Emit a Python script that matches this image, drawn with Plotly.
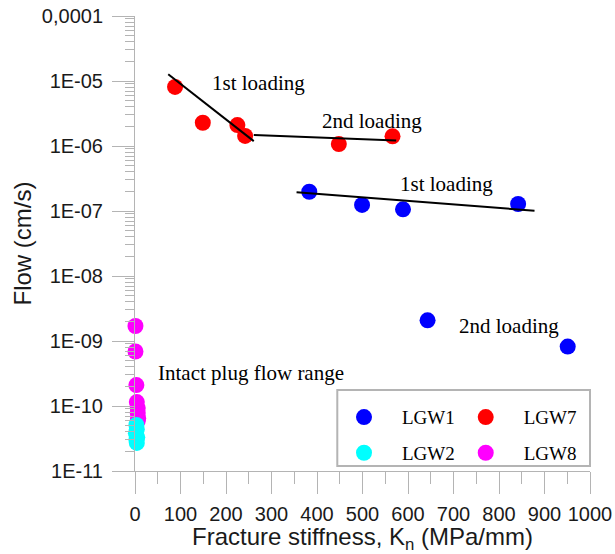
import plotly.graph_objects as go
import math

# ---- data ----
lgw1_x = [383, 499, 589, 842, 643, 951]
lgw1_y = [1.98e-7, 1.24e-7, 1.06e-7, 1.28e-7, 2.08e-9, 8.2e-10]
lgw7_x = [88, 149, 225, 242, 448, 566]
lgw7_y = [8.1e-6, 2.28e-6, 2.1e-6, 1.43e-6, 1.07e-6, 1.41e-6]
lgw8_x = [1, 1, 3, 4, 6, 6, 7, 6]
lgw8_y = [1.70e-9, 6.9e-10, 2.1e-10, 1.15e-10, 9.3e-11, 7.8e-11, 6.5e-11, 5.9e-11]
lgw2_x = [3, 4, 2, 5, 3, 4]
lgw2_y = [5.1e-11, 4.4e-11, 3.8e-11, 3.3e-11, 3.0e-11, 2.7e-11]

fit_red1_x = [73, 261]
fit_red1_y = [1.27e-5, 1.19e-6]
fit_red2_x = [261, 574]
fit_red2_y = [1.48e-6, 1.21e-6]
fit_blue1_x = [355, 878]
fit_blue1_y = [1.94e-7, 1.01e-7]

ytick_vals = [1e-4, 1e-5, 1e-6, 1e-7, 1e-8, 1e-9, 1e-10, 1e-11]
ytick_text = ["0,0001", "1E-05", "1E-06", "1E-07", "1E-08", "1E-09", "1E-10", "1E-11"]

labels = [
    ("1st loading", 271, 9.4e-6),
    ("2nd loading", 521, 2.43e-6),
    ("1st loading", 684, 2.6e-7),
    ("2nd loading", 822, 1.72e-9),
    ("Intact plug flow range", 256, 3.22e-10),
]

SANS = "Liberation Sans"
SERIF = "Liberation Serif"
MS = 16

fig = go.Figure()

def pts(x, y, name, color, legend):
    fig.add_trace(go.Scatter(x=x, y=y, mode="markers", name=name,
                             marker=dict(color=color, size=MS),
                             cliponaxis=False, legend=legend, legendgroup=name))

pts(lgw1_x, lgw1_y, "LGW1", "#0000ff", "legend")
pts(lgw7_x, lgw7_y, "LGW7", "#ff0000", "legend2")
pts(lgw8_x, lgw8_y, "LGW8", "#ff00ff", "legend2")
pts(lgw2_x, lgw2_y, "LGW2", "#00ffff", "legend")

for fx, fy in [(fit_red1_x, fit_red1_y), (fit_red2_x, fit_red2_y), (fit_blue1_x, fit_blue1_y)]:
    fig.add_trace(go.Scatter(x=fx, y=fy, mode="lines", line=dict(color="black", width=2),
                             showlegend=False, cliponaxis=False, hoverinfo="skip"))

for t, x, y in labels:
    fig.add_annotation(x=x, y=math.log10(y), text=t, showarrow=False,
                       font=dict(family=SERIF, size=21, color="black"),
                       xanchor="center", yanchor="middle")

minor_vals = [d * 10.0 ** k for k in range(-11, -4) for d in range(2, 10)]

AX = "#b4b4b4"
fig.update_layout(
    width=615, height=554,
    margin=dict(l=135, r=25, t=16, b=83, autoexpand=False),
    plot_bgcolor="white", paper_bgcolor="white",
    font=dict(family=SANS, size=20, color="#1a1a1a"),
    xaxis=dict(range=[0, 1000], showgrid=False, zeroline=False, showline=True,
               linecolor=AX, linewidth=1, ticks="outside", ticklen=22, tickcolor=AX,
               tickmode="linear", tick0=0, dtick=100, automargin=False,
               minor=dict(ticks="outside", ticklen=12, tickcolor=AX, dtick=50, tick0=0, showgrid=False),
               title=dict(text="Fracture stiffness, K<sub>n</sub> (MPa/mm)", standoff=1),
               ticklabelstandoff=3),
    yaxis=dict(type="log", range=[-11, -4], showgrid=False, zeroline=False, showline=True,
               linecolor=AX, linewidth=1, ticks="outside", ticklen=22, tickcolor=AX,
               tickmode="array", tickvals=ytick_vals, ticktext=ytick_text, automargin=False,
               minor=dict(ticks="outside", ticklen=9, tickcolor=AX, tickmode="array",
                          tickvals=minor_vals, showgrid=False),
               title=dict(text="Flow (cm/s)", standoff=3),
               ticklabelstandoff=5),
    legend=dict(x=0.4198, y=0.16, xanchor="left", yanchor="top", bgcolor="rgba(0,0,0,0)",
                font=dict(family=SERIF, size=19, color="black"), tracegroupgap=8,
                itemwidth=66),
    legend2=dict(x=0.6873, y=0.16, xanchor="left", yanchor="top", bgcolor="rgba(0,0,0,0)",
                 font=dict(family=SERIF, size=19, color="black"), tracegroupgap=8,
                 itemwidth=66),
    shapes=[dict(type="rect", xref="paper", yref="paper", x0=0.4446, x1=1.0, y0=0.011, y1=0.178,
                 line=dict(color="#b4b4b4", width=2), fillcolor="white", layer="below")],
)

fig.write_html("out.html")
